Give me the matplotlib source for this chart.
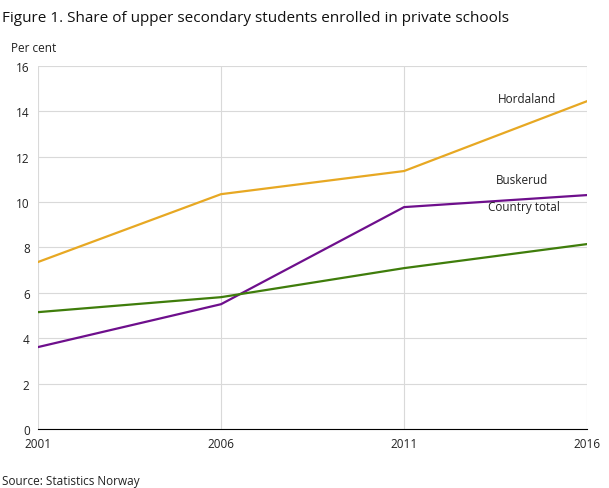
import matplotlib
matplotlib.use("Agg")
import matplotlib.pyplot as plt

plt.rcParams['font.family'] = ['Open Sans', 'DejaVu Sans']

years = [2001, 2006, 2011, 2016]
hordaland = [7.36, 10.35, 11.37, 14.45]
buskerud = [3.61, 5.5, 9.78, 10.31]
country = [5.15, 5.81, 7.09, 8.15]
series = [("Hordaland", hordaland, "#e7a823", (2013.55, 14.3)),
          ("Buskerud", buskerud, "#6e0f8c", (2013.5, 10.7)),
          ("Country total", country, "#3f7d0b", (2013.3, 9.5))]

fig = plt.figure(figsize=(6.09, 4.89), dpi=100)
ax = fig.add_axes([0.0624, 0.1207, 0.9016, 0.7423])
for name, vals, col, (tx, ty) in series:
    ax.plot(years, vals, color=col, lw=1.6, zorder=3)
    ax.text(tx, ty, name, fontsize=8.5, color="#222222", ha="left", va="bottom")

ax.set_xlim(2001, 2016)
ax.set_ylim(0, 16)
ax.set_xticks(years)
ax.set_yticks(range(0, 17, 2))
ax.grid(True, color="#d9d9d9", lw=0.8)
ax.set_axisbelow(True)
for s in ["top", "right", "left"]:
    ax.spines[s].set_visible(False)
ax.spines["bottom"].set_color("#000000")
ax.tick_params(length=0, labelsize=8.5, colors="#222222")
ax.tick_params(axis="x", pad=6)
ax.tick_params(axis="y", pad=6)

fig.text(0.003, 0.963, "Figure 1. Share of upper secondary students enrolled in private schools",
         fontsize=11, ha="left", va="center", color="#111111")
fig.text(0.018, 0.9, "Per cent", fontsize=8.5, ha="left", va="center", color="#222222")
fig.text(0.003, 0.003, "Source: Statistics Norway", fontsize=8.5, ha="left", va="bottom", color="#222222")
fig.savefig("out.png", dpi=100)
